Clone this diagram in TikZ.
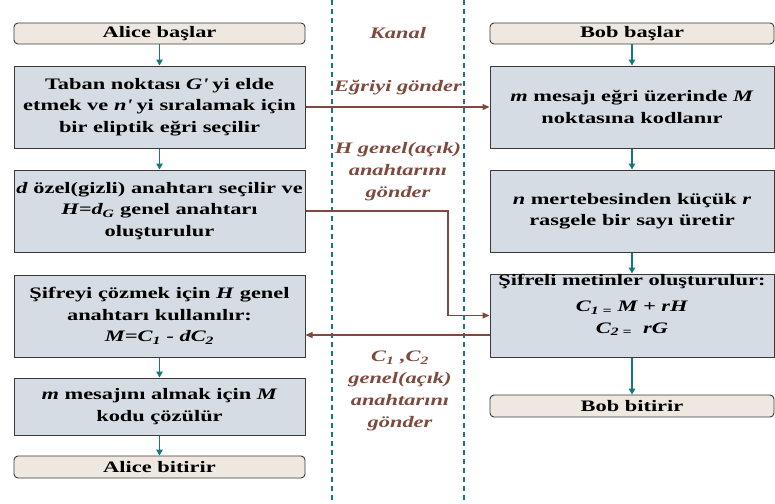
\documentclass[tikz,border=0pt]{standalone}
\usepackage{fontspec}
\setmainfont{Liberation Serif}[FakeStretch=1.4]
\usetikzlibrary{arrows.meta,shadows}
\definecolor{flow}{HTML}{17777A}
\definecolor{msgc}{HTML}{7E4A3E}
\definecolor{boxfill}{HTML}{D6DCE4}
\definecolor{capfill}{HTML}{EEE8E1}
\definecolor{edge}{HTML}{3A3A3A}

\begin{document}
\begin{tikzpicture}[x=1pt,y=-1pt,
  every node/.style={font=\bfseries\fontsize{16}{21.5}\selectfont},
  stepbox/.style={draw=edge, line width=1pt, fill=boxfill, align=center, inner sep=0pt,
    drop shadow={shadow xshift=1.2pt, shadow yshift=-1.2pt, fill=black!45}},
  leftcol/.style={minimum width=291pt},
  rightcol/.style={minimum width=284pt},
  capbox/.style={draw=edge, line width=0.9pt, fill=capfill, rounded corners=4pt,
    inner sep=0pt, minimum height=21pt},
  flowarrow/.style={draw=flow, line width=1.4pt, -{Triangle[length=6pt,width=6.5pt]}},
  msg/.style={draw=msgc, line width=1.2pt, -{Triangle[length=7pt,width=6pt]}},
  msgtext/.style={text=msgc, font=\bfseries\itshape\fontsize{16}{22}\selectfont, align=center},
  chan/.style={draw=flow, line width=1.2pt, dash pattern=on 5pt off 4pt}
]
\useasboundingbox (0,0) rectangle (775,503);

% channel boundaries
\draw[chan] (332,0) -- (332,503);
\draw[chan] (464,0) -- (464,503);

% Alice column
\node[capbox, leftcol] (as) at (159.5,33.5) {Alice başlar};
\node[stepbox, leftcol, minimum height=82pt] (a1) at (159.5,107)
  {Taban noktası \textit{G\textquotesingle} yi elde\\
   etmek\ ve\ \textit{n\textquotesingle}\ yi\ sıralamak\ için\\ bir eliptik eğri seçilir};
\node[stepbox, leftcol, minimum height=82pt] (a2) at (159.5,211)
  {\textit{d} özel(gizli) anahtarı seçilir ve\\ \textit{H=d\textsubscript{G}} genel anahtarı\\ oluşturulur};
\node[stepbox, leftcol, minimum height=82pt] (a3) at (159.5,316)
  {Şifreyi çözmek için \textit{H} genel\\ anahtarı kullanılır:\\ \textit{M=C\textsubscript{1} - dC\textsubscript{2}}};
\node[stepbox, leftcol, minimum height=57pt] (a4) at (159.5,406.5)
  {\textit{m} mesajını almak için \textit{M}\\ kodu çözülür};
\node[capbox, leftcol, minimum height=22pt] (ae) at (159.5,467) {Alice bitirir};

\draw[flowarrow] (as) -- (a1);
\draw[flowarrow] (a1) -- (a2);
\draw[flowarrow] (a3) -- (a4);
\draw[flowarrow] (a4) -- (ae);

% Bob column
\node[capbox, rightcol] (bs) at (632,33.5) {Bob başlar};
\node[stepbox, rightcol, minimum height=82pt] (b1) at (632,107)
  {\textit{m} mesajı eğri üzerinde \textit{M}\\ noktasına kodlanır};
\node[stepbox, rightcol, minimum height=82pt] (b2) at (632,211)
  {\textit{n} mertebesinden küçük \textit{r}\\ rasgele bir sayı üretir};
\node[stepbox, rightcol, minimum height=83pt] (b3) at (632,315.5) {};
\node[align=center] (b3text) at (632,305)
  {Şifreli metinler oluşturulur:\\[5pt] \textit{C\textsubscript{1 =} M + rH}\\ \textit{C\textsubscript{2 =}\ \ rG}};
\node[capbox, rightcol, minimum height=22pt] (be) at (632,406) {Bob bitirir};

\draw[flowarrow] (bs) -- (b1);
\draw[flowarrow] (b1) -- (b2);
\draw[flowarrow] (b2) -- (b3);
\draw[flowarrow] (b3) -- (be);

% channel messages
\node[msgtext] (kanal) at (398,33) {Kanal};
\node[msgtext] (m1) at (398,88) {Eğriyi gönder};
\node[msgtext] (m2) at (398,172) {H genel(açık)\\ anahtarını\\ gönder};
\node[msgtext] (m3) at (400,391) {C\textsubscript{1} ,C\textsubscript{2}\\ genel(açık)\\ anahtarını\\ gönder};

\coordinate (hturn) at (448,211);
\draw[msg] (a1) -- (b1);
\draw[msg] (a2.east) -- (hturn) |- (b3.west);
\draw[msg] ([yshift=-19.5pt]b3.west) -- ([yshift=-19.5pt]b3.west -| a3.east);
\end{tikzpicture}
\end{document}
